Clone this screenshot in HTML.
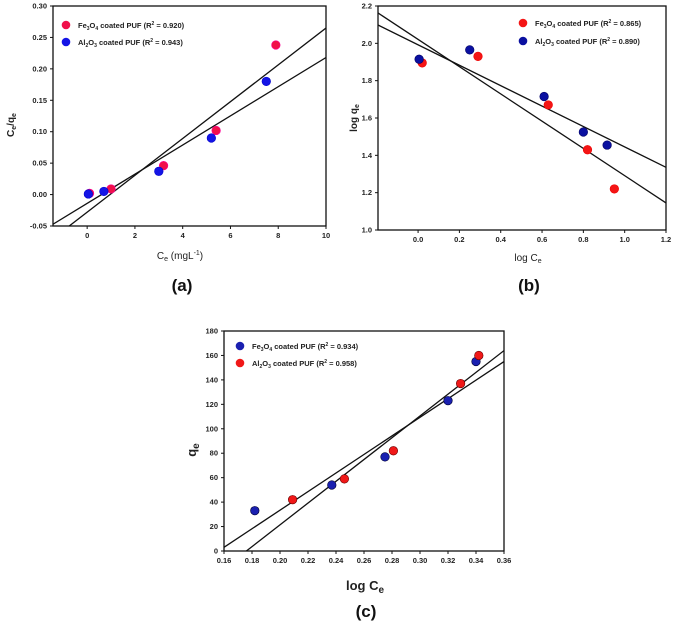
<!DOCTYPE html>
<html><head><meta charset="utf-8"><style>
body{margin:0;background:#fff;}
svg{display:block;font-family:"Liberation Sans",Arial,sans-serif;}
.tk{font-size:7.5px;font-weight:bold;fill:#222;}
.lg{font-size:7.5px;font-weight:bold;fill:#222;}
.pl{font-size:17px;font-weight:bold;fill:#111;}
</style></head><body>
<svg id="c" width="675" height="624" viewBox="0 0 675 624"></svg>
<script>
// Panel (a)
const aRedX=[0.1,1.0,3.2,5.4,7.9];
const aRedY=[0.002,0.009,0.046,0.102,0.238];
const aBlueX=[0.05,0.7,3.0,5.2,7.5];
const aBlueY=[0.001,0.005,0.037,0.090,0.180];
const aLines=[[0.0293,-0.028],[0.0232,-0.014]];
const aXTicks=[0,2,4,6,8,10];
const aYTicks=[-0.05,0,0.05,0.10,0.15,0.20,0.25,0.30];
// Panel (b)
const bRedX=[0.02,0.29,0.63,0.82,0.95];
const bRedY=[1.895,1.93,1.67,1.43,1.22];
const bBlueX=[0.005,0.25,0.61,0.80,0.915];
const bBlueY=[1.915,1.965,1.715,1.525,1.455];
const bLines=[[-0.730,2.021],[-0.547,1.992]];
const bXTicks=[0,0.2,0.4,0.6,0.8,1.0,1.2];
const bYTicks=[1.0,1.2,1.4,1.6,1.8,2.0,2.2];
// Panel (c)
const cBlueX=[0.182,0.237,0.275,0.32,0.34];
const cBlueY=[33,54,77,123,155];
const cRedX=[0.209,0.246,0.281,0.329,0.342];
const cRedY=[42,59,82,137,160];
const cLines=[[891,-156.8],[760,-118.6]];
const cXTicks=[0.16,0.18,0.20,0.22,0.24,0.26,0.28,0.30,0.32,0.34,0.36];
const cYTicks=[0,20,40,60,80,100,120,140,160,180];

const NS="http://www.w3.org/2000/svg";
const svg=document.getElementById('c');
function mk(tag,attrs,parent){const e=document.createElementNS(NS,tag);for(const k in attrs)e.setAttribute(k,attrs[k]);(parent||svg).appendChild(e);return e;}

function panel(o){
  const g=mk('g',{});
  
  
  const sx=v=>o.L+(v-o.x0)/(o.x1-o.x0)*(o.R-o.L);
  const sy=v=>o.B-(v-o.y0)/(o.y1-o.y0)*(o.B-o.T);
  // clip
  const cid='clip'+o.name;
  const cp=mk('clipPath',{id:cid},g);
  mk('rect',{x:o.L,y:o.T,width:o.R-o.L,height:o.B-o.T},cp);
  // lines
  o.lines.forEach((ln,i)=>{
    const l=mk('line',{x1:sx(o.x0),y1:sy(ln[0]*o.x0+ln[1]),x2:sx(o.x1),y2:sy(ln[0]*o.x1+ln[1]),stroke:'#111','stroke-width':1.3,'clip-path':'url(#'+cid+')'},g);
    
    
  });
  o.series.forEach(s=>{
    s.x.forEach((xv,i)=>{
      const c=mk('circle',{cx:sx(xv),cy:sy(s.y[i]),r:4.3,fill:s.color,stroke:s.stroke,'stroke-width':0.6},g);
      
      
    });
  });
  const fr=mk('rect',{x:o.L,y:o.T,width:o.R-o.L,height:o.B-o.T,fill:'none',stroke:'#111','stroke-width':1.3},g);
  
  
  o.xt.forEach(v=>{
    mk('line',{x1:sx(v),y1:o.B,x2:sx(v),y2:o.B+3,stroke:'#111'},g);
    const t=mk('text',{x:sx(v),y:o.B+12,'text-anchor':'middle',class:'tk'},g);
    t.textContent=v.toFixed(o.xd);
    
    
  });
  o.yt.forEach(v=>{
    mk('line',{x1:o.L-3,y1:sy(v),x2:o.L,y2:sy(v),stroke:'#111'},g);
    const t=mk('text',{x:o.L-6,y:sy(v)+2.5,'text-anchor':'end',class:'tk'},g);
    t.textContent=v.toFixed(o.yd);
    
    
  });
  return g;
}
panel({name:'panel-a',L:53,R:326,T:6,B:226,x0:-1.43,x1:10,y0:-0.05,y1:0.30,xd:0,yd:2,xt:aXTicks,yt:aYTicks,lines:aLines,
  series:[{key:'fe3o4',x:aRedX,y:aRedY,color:'#f0104a',stroke:'#f09'},{key:'al2o3',x:aBlueX,y:aBlueY,color:'#1414e6',stroke:'#00c'}]});
panel({name:'panel-b',L:378,R:666,T:6,B:230,x0:-0.194,x1:1.2,y0:1.0,y1:2.2,xd:1,yd:1,xt:bXTicks,yt:bYTicks,lines:bLines,
  series:[{key:'fe3o4',x:bRedX,y:bRedY,color:'#f41515',stroke:'#e00'},{key:'al2o3',x:bBlueX,y:bBlueY,color:'#0a10a0',stroke:'#006'}]});
panel({name:'panel-c',L:224,R:504,T:331,B:551,x0:0.16,x1:0.36,y0:0,y1:180,xd:2,yd:0,xt:cXTicks,yt:cYTicks,lines:cLines,
  series:[{key:'fe3o4',x:cBlueX,y:cBlueY,color:'#1a20b0',stroke:'#003'},{key:'al2o3',x:cRedX,y:cRedY,color:'#f01818',stroke:'#600'}]});
</script>
<svg width="675" height="624" style="position:absolute;left:0;top:0">
<g>
<circle cx="66" cy="25" r="4.3" fill="#f0104a"/><text class="lg" x="78" y="28">Fe<tspan font-size="5" dy="2">3</tspan><tspan dy="-2">O</tspan><tspan font-size="5" dy="2">4</tspan><tspan dy="-2"> coated PUF (R</tspan><tspan font-size="5" dy="-3">2</tspan><tspan dy="3"> = 0.920)</tspan></text>
<circle cx="66" cy="42" r="4.3" fill="#1414e6"/><text class="lg" x="78" y="45">Al<tspan font-size="5" dy="2">2</tspan><tspan dy="-2">O</tspan><tspan font-size="5" dy="2">3</tspan><tspan dy="-2"> coated PUF (R</tspan><tspan font-size="5" dy="-3">2</tspan><tspan dy="3"> = 0.943)</tspan></text>
</g>
<g>
<circle cx="523" cy="23" r="4.3" fill="#f41515"/><text class="lg" x="535" y="26">Fe<tspan font-size="5" dy="2">3</tspan><tspan dy="-2">O</tspan><tspan font-size="5" dy="2">4</tspan><tspan dy="-2"> coated PUF (R</tspan><tspan font-size="5" dy="-3">2</tspan><tspan dy="3"> = 0.865)</tspan></text>
<circle cx="523" cy="41" r="4.3" fill="#0a10a0"/><text class="lg" x="535" y="44">Al<tspan font-size="5" dy="2">2</tspan><tspan dy="-2">O</tspan><tspan font-size="5" dy="2">3</tspan><tspan dy="-2"> coated PUF (R</tspan><tspan font-size="5" dy="-3">2</tspan><tspan dy="3"> = 0.890)</tspan></text>
</g>
<g>
<circle cx="240" cy="346" r="4.3" fill="#1a20b0"/><text class="lg" x="252" y="349">Fe<tspan font-size="5" dy="2">3</tspan><tspan dy="-2">O</tspan><tspan font-size="5" dy="2">4</tspan><tspan dy="-2"> coated PUF (R</tspan><tspan font-size="5" dy="-3">2</tspan><tspan dy="3"> = 0.934)</tspan></text>
<circle cx="240" cy="363" r="4.3" fill="#f01818"/><text class="lg" x="252" y="366">Al<tspan font-size="5" dy="2">2</tspan><tspan dy="-2">O</tspan><tspan font-size="5" dy="2">3</tspan><tspan dy="-2"> coated PUF (R</tspan><tspan font-size="5" dy="-3">2</tspan><tspan dy="3"> = 0.958)</tspan></text>
</g>
<text x="180" y="259" text-anchor="middle" font-size="10" fill="#222">C<tspan font-size="7" dy="2">e</tspan><tspan dy="-2"> (mgL</tspan><tspan font-size="7" dy="-4">-1</tspan><tspan dy="4">)</tspan></text>
<text transform="translate(14,125) rotate(-90)" text-anchor="middle" font-size="10" font-weight="bold" fill="#222">C<tspan font-size="7" dy="2">e</tspan><tspan dy="-2">/q</tspan><tspan font-size="7" dy="2">e</tspan></text>
<text x="528" y="261" text-anchor="middle" font-size="10" fill="#222">log C<tspan font-size="7" dy="2">e</tspan></text>
<text transform="translate(357,118) rotate(-90)" text-anchor="middle" font-size="10" font-weight="bold" fill="#222">log q<tspan font-size="7" dy="2">e</tspan></text>
<text x="365" y="590" text-anchor="middle" font-size="13" font-weight="bold" fill="#222">log C<tspan font-size="10" dy="3">e</tspan></text>
<text transform="translate(196,450) rotate(-90)" text-anchor="middle" font-size="13" font-weight="bold" fill="#222">q<tspan font-size="10" dy="3">e</tspan></text>
<text class="pl" x="182" y="291" text-anchor="middle">(a)</text>
<text class="pl" x="529" y="291" text-anchor="middle">(b)</text>
<text class="pl" x="366" y="617" text-anchor="middle">(c)</text>
</svg>
</body></html>
